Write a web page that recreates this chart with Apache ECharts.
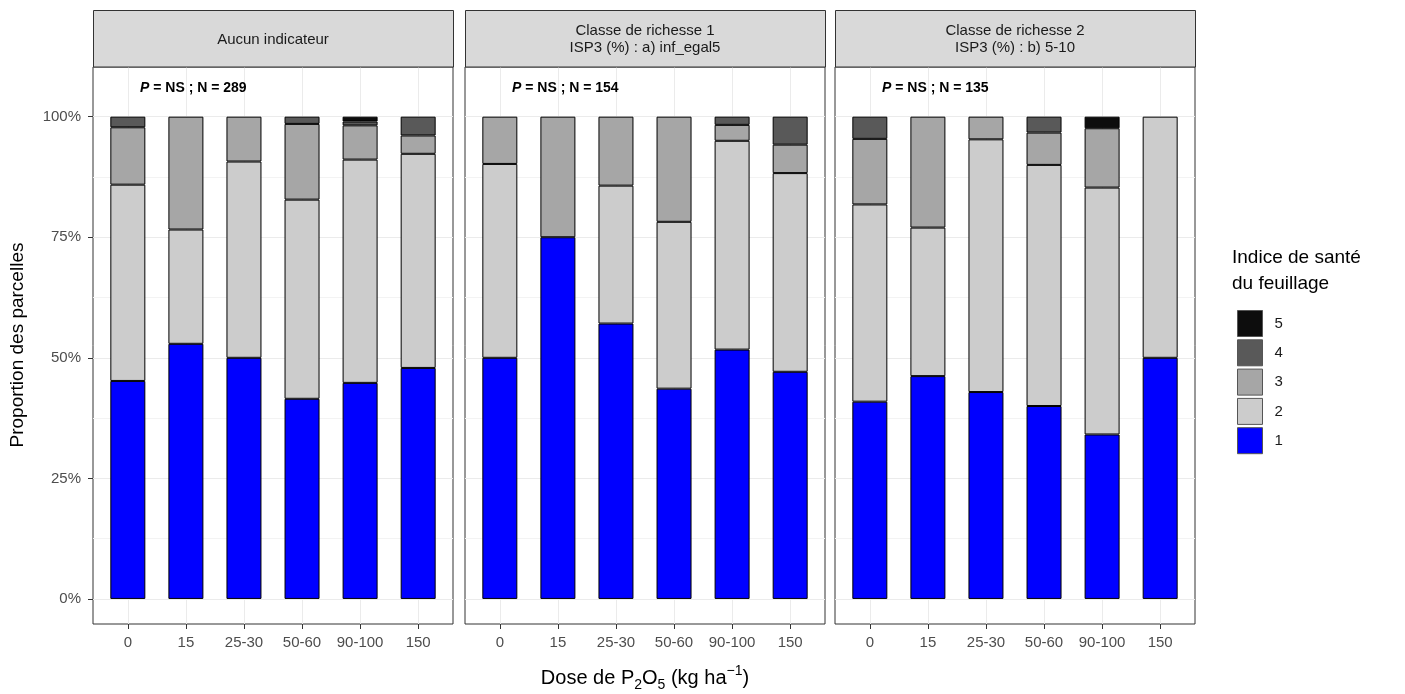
<!DOCTYPE html>
<html>
<head>
<meta charset="utf-8">
<title>Indice de santé du feuillage</title>
<script src="https://cdn.jsdelivr.net/npm/echarts@6/dist/echarts.min.js"></script>
<style>
  html, body { margin: 0; padding: 0; background: #fff; }
  #chart { width: 1405px; height: 694px; }
</style>
</head>
<body>
<div id="chart"></div>
<script>
// doses de P2O5 (axe x)
var doses = ['0', '15', '25-30', '50-60', '90-100', '150'];
var classes = ['1', '2', '3', '4', '5'];
var panelTitles = ['Aucun indicateur', 'Classe de richesse 1\nISP3 (%) : a) inf_egal5', 'Classe de richesse 2\nISP3 (%) : b) 5-10'];
var panelN = [289, 154, 135];
var yTicks = [0, 25, 50, 75, 100];
var yMinor = [12.5, 37.5, 62.5, 87.5];

// proportions (%) par classe, panneau "Aucun indicateur"
var p1c1 = [45.2, 52.9, 50.0, 41.5, 44.8, 47.9];
var p1c2 = [40.7, 23.7, 40.7, 41.3, 46.3, 44.4];
var p1c3 = [11.9, 23.4, 9.3, 15.7, 7.1, 3.8];
var p1c4 = [2.2, 0, 0, 1.5, 0.8, 3.9];
var p1c5 = [0, 0, 0, 0, 1.0, 0];
// panneau "Classe de richesse 1"
var p2c1 = [50.0, 75.0, 57.1, 43.6, 51.7, 47.1];
var p2c2 = [40.2, 0, 28.6, 34.6, 43.3, 41.2];
var p2c3 = [9.8, 25.0, 14.3, 21.8, 3.3, 5.9];
var p2c4 = [0, 0, 0, 0, 1.7, 5.8];
var p2c5 = [0, 0, 0, 0, 0, 0];
// panneau "Classe de richesse 2"
var p3c1 = [40.9, 46.2, 42.9, 40.0, 34.1, 50.0];
var p3c2 = [40.9, 30.8, 52.4, 50.0, 51.2, 50.0];
var p3c3 = [13.6, 23.0, 4.7, 6.7, 12.3, 0];
var p3c4 = [4.6, 0, 0, 3.3, 0, 0];
var p3c5 = [0, 0, 0, 0, 2.4, 0];

var panels = [
    [p1c1, p1c2, p1c3, p1c4, p1c5],
    [p2c1, p2c2, p2c3, p2c4, p2c5],
    [p3c1, p3c2, p3c3, p3c4, p3c5]
];

var colors = ['#0000FF', '#CCCCCC', '#A6A6A6', '#595959', '#0D0D0D'];
var font = '"Liberation Sans", Arial, sans-serif';
var lefts = [93, 465, 835];
var panelW = 360;
var unit = panelW / 6.2;      // largeur d'une catégorie (expansion 0.6 de chaque côté)
var top0 = 67, plotH = 557;
var yMin = -5.2, yMax = 110.3;
var xPos = doses.map(function (d, i) { return i + 1; });

var grids = [], xAxes = [], yAxes = [], series = [], graphics = [];

lefts.forEach(function (left, p) {
    // grille de fond : cadre, lignes de grille, graduations
    grids.push({
        left: left, top: top0, width: panelW, height: plotH,
        show: true, borderColor: '#333', borderWidth: 1, backgroundColor: '#fff',
        containLabel: false, outerBoundsMode: 'none'
    });
    // grille des barres : 6 catégories centrées sur les graduations
    grids.push({
        left: left + unit * 0.1, top: top0, width: unit * 6, height: plotH,
        show: false, containLabel: false, outerBoundsMode: 'none'
    });
    xAxes.push({
        type: 'value', gridIndex: 2 * p, min: 0.4, max: 6.6, position: 'bottom',
        axisLine: { show: false, onZero: false },
        axisTick: { show: true, length: 5, customValues: xPos, lineStyle: { color: '#333' } },
        axisLabel: {
            customValues: xPos, margin: 11, fontSize: 15, color: '#4D4D4D', fontFamily: font,
            formatter: function (v) { return doses[Math.round(v) - 1]; }
        },
        splitLine: { show: true, lineStyle: { color: '#EBEBEB', width: 1 } }
    });
    xAxes.push({
        type: 'category', gridIndex: 2 * p + 1, data: doses, show: false,
        axisLine: { onZero: false }
    });
    // graduations majeures
    yAxes.push({
        type: 'value', gridIndex: 2 * p, min: yMin, max: yMax, position: 'left',
        axisLine: { show: false, onZero: false },
        axisTick: { show: p === 0, length: 5, customValues: yTicks, lineStyle: { color: '#333' } },
        axisLabel: {
            show: p === 0, customValues: yTicks, margin: 12, fontSize: 15, color: '#4D4D4D', fontFamily: font,
            formatter: function (v) { return v + '%'; }
        },
        splitLine: { show: true, lineStyle: { color: '#EBEBEB', width: 1 } }
    });
    // lignes mineures
    yAxes.push({
        type: 'value', gridIndex: 2 * p, min: yMin, max: yMax, position: 'right',
        axisLine: { show: false, onZero: false },
        axisTick: { show: false, customValues: yMinor },
        axisLabel: { show: false },
        splitLine: { show: true, lineStyle: { color: '#F3F3F3', width: 1 } }
    });
    // axe des barres
    yAxes.push({
        type: 'value', gridIndex: 2 * p + 1, min: yMin, max: yMax, show: false,
        splitLine: { show: false }
    });

    panels[p].forEach(function (vals, c) {
        series.push({
            name: classes[c],
            type: 'bar',
            xAxisIndex: 2 * p + 1,
            yAxisIndex: 3 * p + 2,
            stack: 'panel' + p,
            barWidth: 35,
            itemStyle: { color: colors[c], borderColor: '#000', borderWidth: 1 },
            emphasis: { disabled: true },
            data: vals.map(function (v) {
                return v === 0 ? { value: 0, itemStyle: { borderWidth: 0 } } : v;
            })
        });
    });

    // bandeau du panneau
    graphics.push({
        type: 'rect',
        shape: { x: left + 0.5, y: 10.5, width: panelW, height: top0 - 10.5 },
        style: { fill: '#D9D9D9', stroke: '#333', lineWidth: 1 },
        z: 10
    });
    graphics.push({
        type: 'text', x: left + panelW / 2, y: 39.5, z: 11,
        style: {
            text: panelTitles[p], fontSize: 15, lineHeight: 17, fill: '#1A1A1A', fontFamily: font,
            align: 'center', verticalAlign: 'middle'
        }
    });
    graphics.push({
        type: 'text', x: left + 47, y: 88, z: 11,
        style: {
            text: '{i|P} = NS ; N = ' + panelN[p],
            fontSize: 14, fontWeight: 'bold', fill: '#000', fontFamily: font,
            align: 'left', verticalAlign: 'middle',
            rich: { i: { fontStyle: 'italic', fontWeight: 'bold', fontSize: 14, fontFamily: font } }
        }
    });
});

// titres des axes et de la légende
graphics.push({
    type: 'text', x: 18, y: 345, rotation: Math.PI / 2,
    style: { text: 'Proportion des parcelles', fontSize: 19, fill: '#000', fontFamily: font, align: 'center', verticalAlign: 'middle' }
});
graphics.push({
    type: 'text', x: 645, y: 678,
    style: {
        text: 'Dose de P{sub|2}O{sub|5} (kg ha{sup|\u22121})',
        fontSize: 20, fill: '#000', fontFamily: font, align: 'center', verticalAlign: 'middle', lineHeight: 28,
        rich: {
            sub: { fontSize: 14, fontFamily: font, fill: '#000', verticalAlign: 'bottom', lineHeight: 28 },
            sup: { fontSize: 14, fontFamily: font, fill: '#000', verticalAlign: 'top', lineHeight: 28 }
        }
    }
});
graphics.push({
    type: 'text', x: 1232, y: 271,
    style: { text: 'Indice de santé\ndu feuillage', fontSize: 19, lineHeight: 26, fill: '#000', fontFamily: font, align: 'left', verticalAlign: 'middle' }
});

var myChart = echarts.init(document.getElementById('chart'));
var option = {
    animation: false,
    backgroundColor: '#fff',
    grid: grids,
    xAxis: xAxes,
    yAxis: yAxes,
    legend: {
        data: classes.slice().reverse(),
        orient: 'vertical',
        left: 1232, top: 305,
        icon: 'rect',
        itemWidth: 25, itemHeight: 26, itemGap: 2.3,
        selectedMode: false,
        itemStyle: { borderColor: '#555', borderWidth: 1 },
        textStyle: { fontSize: 15, color: '#1A1A1A', fontFamily: font, padding: [0, 0, 0, 7] }
    },
    graphic: graphics,
    series: series
};
myChart.setOption(option);
</script>
</body>
</html>
